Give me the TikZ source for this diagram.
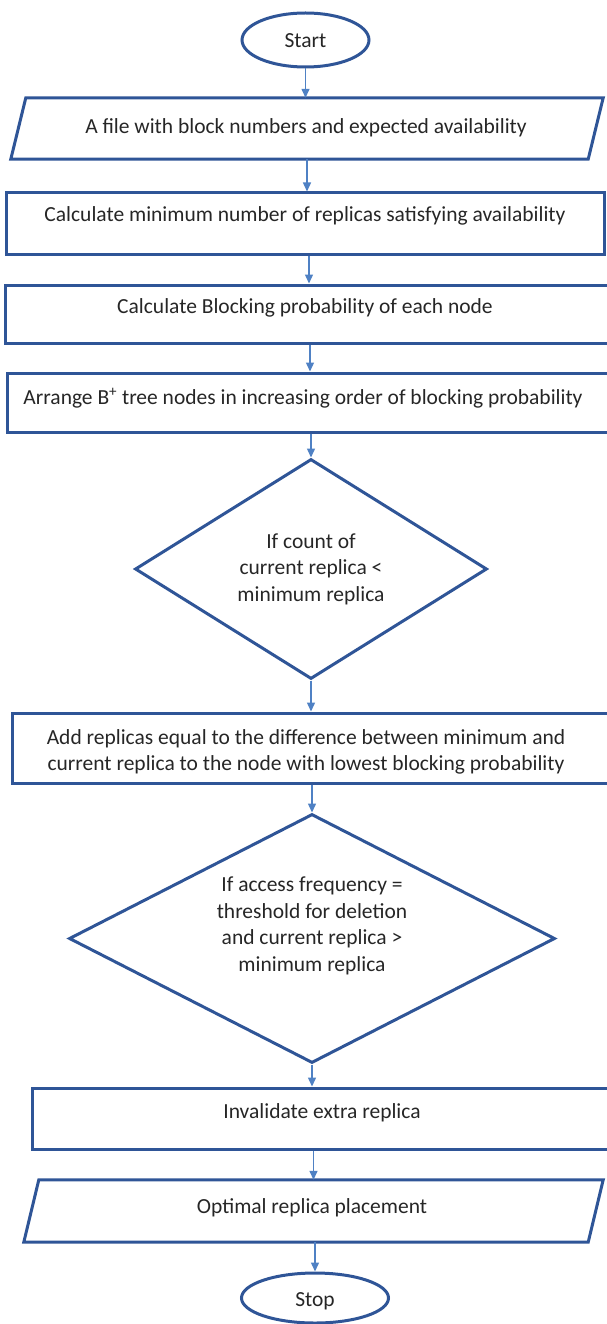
\documentclass[tikz,border=0pt]{standalone}
\usepackage{fontspec}
\setmainfont{Carlito}
\usetikzlibrary{shapes.geometric,arrows.meta}
\definecolor{edgeblue}{RGB}{47,85,151}
\definecolor{flowblue}{RGB}{79,129,196}
\begin{document}
\begin{tikzpicture}[x=1pt,y=-1pt,
  outline/.style={draw=edgeblue, line width=3pt, line join=miter},
  box/.style={outline, rectangle, inner sep=0pt},
  term/.style={outline, ellipse, inner sep=0pt},
  choice/.style={outline, diamond, inner sep=0pt},
  io/.style={rectangle, inner sep=0pt},
  txt/.style={font=\fontsize{21.5}{26.5}\selectfont, align=center, inner sep=0pt, text=black!85},
  arr/.style={draw=flowblue, line width=1.4pt, -{Triangle[length=9pt,width=8pt]}}]
\useasboundingbox (0,0) rectangle (606,1324);

% terminals
\node[term, minimum width=127, minimum height=54] (start) at (305.5,40) {};
\node[txt] (tstart) at (305.5,41) {Start};
\node[term, minimum width=147, minimum height=50] (stop) at (315,1298) {};
\node[txt] (tstop) at (315,1301) {Stop};

% input parallelogram
\node[io, minimum width=577, minimum height=61] (p1) at (307,128.5) {};
\draw[outline] ([xshift=7.5pt]p1.north west) -- ([xshift=7.5pt]p1.north east)
  -- ([xshift=-7.5pt]p1.south east) -- ([xshift=-7.5pt]p1.south west) -- cycle;
\node[txt] (tp1) at (306,128) {A file with block numbers and expected availability};

% process boxes
\node[box, minimum width=598, minimum height=62] (b2) at (305,224) {};
\node[txt] (tb2) at (305,216) {Calculate minimum number of replicas satisfying availability};
\node[box, minimum width=608, minimum height=58] (b3) at (309,314) {};
\node[txt] (tb3) at (305,308) {Calculate Blocking probability of each node};
\node[box, minimum width=606, minimum height=59] (b4) at (310,402.5) {};
\node[txt] (tb4) at (303,398) {Arrange B\textsuperscript{+} tree nodes in increasing order of blocking probability};

% first decision
\node[choice, minimum width=352, minimum height=220] (d1) at (311,569) {};
\node[txt] (td1) at (311,569) {If count of\\current replica <\\minimum replica};

\node[box, minimum width=604, minimum height=70] (b5) at (314,748) {};
\node[txt] (tb5) at (306,752) {Add replicas equal to the difference between minimum and\\current replica to the node with lowest blocking probability};

% second decision
\node[choice, minimum width=486, minimum height=249] (d2) at (312,938.5) {};
\node[txt] (td2) at (312,926) {If access frequency =\\threshold for deletion\\and current replica >\\minimum replica};

\node[box, minimum width=600, minimum height=61] (b6) at (332,1118.5) {};
\node[txt] (tb6) at (322,1113) {Invalidate extra replica};

% output parallelogram
\node[io, minimum width=564, minimum height=62] (p2) at (313.5,1211) {};
\draw[outline] ([xshift=7.5pt]p2.north west) -- ([xshift=7.5pt]p2.north east)
  -- ([xshift=-7.5pt]p2.south east) -- ([xshift=-7.5pt]p2.south west) -- cycle;
\node[txt] (tp2) at (312,1208) {Optimal replica placement};

% connectors
\draw[arr] (start.south) -- (start.south |- p1.north);
\draw[arr] (p1.south) -- (p1.south |- b2.north);
\draw[arr] (b2.south -| b3.north) -- (b3.north);
\draw[arr] (b3.south -| b4.north) -- (b4.north);
\draw[arr] (b4.south -| d1.north) -- (d1.north);
\draw[arr] (d1.south) -- (d1.south |- b5.north);
\draw[arr] (b5.south -| d2.north) -- (d2.north);
\draw[arr] (d2.south) -- (d2.south |- b6.north);
\draw[arr] (b6.south -| p2.north) -- (p2.north);
\draw[arr] (p2.south -| stop.north) -- (stop.north);
\end{tikzpicture}
\end{document}
